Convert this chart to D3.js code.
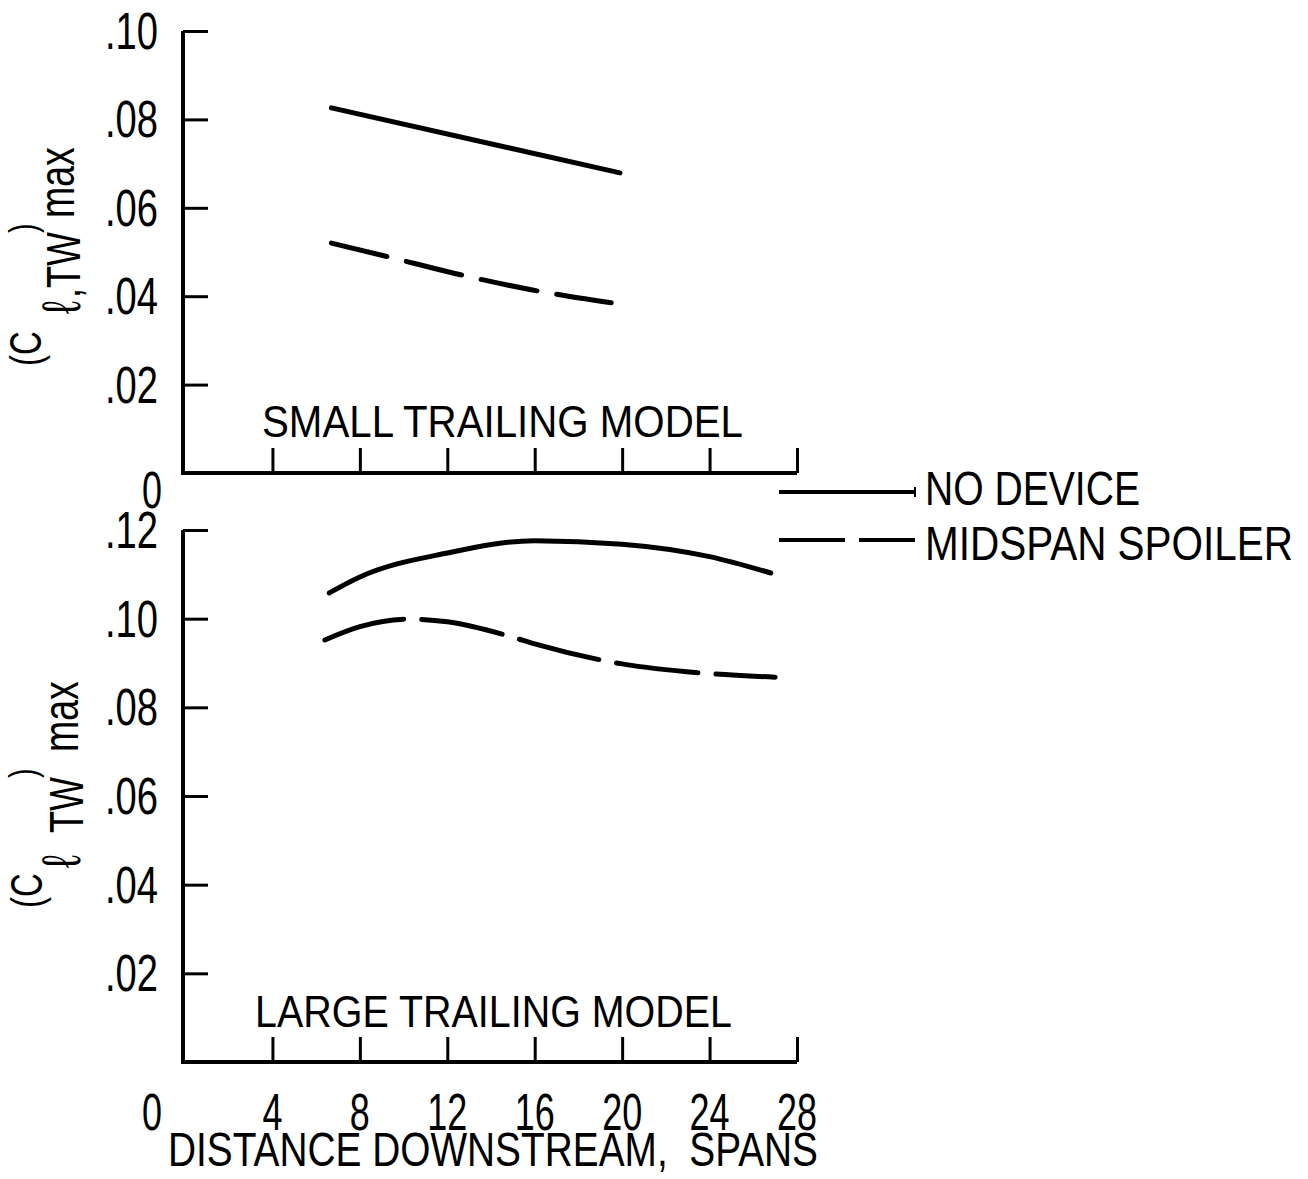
<!DOCTYPE html>
<html>
<head>
<meta charset="utf-8">
<script src="https://cdn.jsdelivr.net/npm/d3@7"></script>
<style>
  body { margin: 0; background: #fff; }
  text { font-family: "Liberation Sans", Arial, sans-serif; fill: #000; }
</style>
</head>
<body>
<svg id="chart"></svg>
<script>
var width = 1308, height = 1179

// x ticks (spans) and y ticks for both panels
var xTicks = [0, 4, 8, 12, 16, 20, 24, 28]
var yTicksTop = [0.02, 0.04, 0.06, 0.08, 0.10]
var yTicksBottom = [0.02, 0.04, 0.06, 0.08, 0.10, 0.12]

// small trailing model
var smallSolidX = [6.7, 19.9]
var smallSolidY = [0.0826, 0.0679]
var smallDashX = [6.7, 9.3, 12.3, 15.9, 19.5]
var smallDashY = [0.0520, 0.0489, 0.0452, 0.0414, 0.0385]

// large trailing model
var largeSolidX = [6.6, 8, 12, 16, 20, 24, 26.8]
var largeSolidY = [0.1058, 0.1094, 0.1148, 0.1176, 0.1168, 0.1140, 0.1103]
var largeDashX = [6.4, 8, 10.2, 12, 15, 16, 20, 24, 27]
var largeDashY = [0.0952, 0.0982, 0.0999, 0.0993, 0.0958, 0.0943, 0.0898, 0.0876, 0.0868]

var legendLabels = ["NO DEVICE", "MIDSPAN SPOILER"]

var svg = d3.select("#chart")
  .attr("width", width)
  .attr("height", height)

var x = d3.scaleLinear().domain([0, 28]).range([185, 797])
var yTop = d3.scaleLinear().domain([0, 0.10]).range([473, 31])
var yBot = d3.scaleLinear().domain([0, 0.12]).range([1062, 530])

var fmt = function(d){ return d3.format(".2f")(d).replace(/^0/, "") }

function zip(xs, ys) {
  return xs.map(function(v, i){ return [v, ys[i]] })
}

// text squeezed to a given width (the original lettering is condensed)
function label(g, str, x0, y0, size, w) {
  return g.append("text")
    .attr("x", x0).attr("y", y0)
    .attr("font-size", size)
    .attr("textLength", w)
    .attr("lengthAdjust", "spacingAndGlyphs")
    .text(str)
}

function panel(y, yTicks, solid, dash, dashArray, title, titleX, titleW, titleY) {
  var g = svg.append("g")

  // y axis with inward ticks, labels drawn separately
  g.append("g")
    .attr("transform", "translate(" + (x(0) - 2) + ",0)")
    .call(d3.axisLeft(y).tickValues(yTicks).tickSizeInner(-25).tickSizeOuter(0).tickFormat(""))
    .call(function(a){
      a.select(".domain").attr("stroke-width", 4).attr("d", "M0," + (y(0) + 2) + "V" + y.range()[1])
      a.selectAll(".tick line").attr("stroke-width", 3)
    })

  yTicks.forEach(function(d){
    label(g, fmt(d), 105, y(d) + 18, 52, 53)
  })

  // x axis with inward ticks, no labels
  g.append("g")
    .attr("transform", "translate(0," + y(0) + ")")
    .call(d3.axisBottom(x).tickValues(xTicks.slice(1)).tickSizeInner(-25).tickSizeOuter(0).tickFormat(""))
    .call(function(a){
      a.select(".domain").attr("stroke-width", 4).attr("d", "M" + (x(0) - 4) + ",0H" + x(28))
      a.selectAll(".tick line").attr("stroke-width", 3)
    })

  label(g, title, titleX, titleY, 45, titleW)

  var line = d3.line()
    .x(function(d){ return x(d[0]) })
    .y(function(d){ return y(d[1]) })
    .curve(d3.curveMonotoneX)

  g.append("path")
    .datum(solid)
    .attr("d", line)
    .attr("fill", "none")
    .attr("stroke", "#000")
    .attr("stroke-width", 5)
    .attr("stroke-linecap", "round")

  g.append("path")
    .datum(dash)
    .attr("d", line)
    .attr("fill", "none")
    .attr("stroke", "#000")
    .attr("stroke-width", 5)
    .attr("stroke-linecap", "round")
    .attr("stroke-dasharray", dashArray)
}

panel(yTop, yTicksTop, zip(smallSolidX, smallSolidY), zip(smallDashX, smallDashY), "57,20", "SMALL TRAILING MODEL", 262, 481, 437)
panel(yBot, yTicksBottom, zip(largeSolidX, largeSolidY), zip(largeDashX, largeDashY), "82,18", "LARGE TRAILING MODEL", 255, 477, 1027)

// zero label for top panel
label(svg, "0", 142, 508, 52, 20)

// x tick labels under bottom panel
xTicks.forEach(function(d){
  var s = String(d), w = s.length * 20
  var cx = d === 0 ? 152 : x(d)
  label(svg, s, cx - w / 2, 1130, 52, w)
})

label(svg, "DISTANCE DOWNSTREAM,  SPANS", 168, 1166, 49, 650).attr("xml:space", "preserve")

// y axis titles, built from rotated pieces: [text, baseline x, start y, font size]
function yTitle(pieces) {
  pieces.forEach(function(p){
    svg.append("text")
      .attr("transform", "translate(" + p[1] + "," + p[2] + ") rotate(-90) scale(0.75,1)")
      .attr("font-size", p[3])
      .text(p[0])
  })
}
yTitle([["(C", 41, 366, 44], ["\u2113", 80, 314, 54], [",TW", 80, 298, 48], [")", 36, 233, 38], ["max", 74, 218, 50]])
yTitle([["(C", 42, 908, 44], ["\u2113", 80, 868, 54], ["TW", 83, 833, 48], [")", 36, 778, 38], ["max", 78, 752, 50]])

// legend
var legend = svg.append("g")
legend.selectAll("line")
  .data(legendLabels)
  .enter().append("line")
  .attr("x1", 779).attr("x2", 915)
  .attr("y1", function(d, i){ return 492 + i * 48 })
  .attr("y2", function(d, i){ return 492 + i * 48 })
  .attr("stroke", "#000")
  .attr("stroke-width", 4)
  .attr("stroke-dasharray", function(d, i){ return i ? "66,14" : null })

legend.append("line")
  .attr("x1", 915).attr("x2", 915)
  .attr("y1", 487).attr("y2", 497)
  .attr("stroke", "#000")
  .attr("stroke-width", 2)

legendLabels.forEach(function(d, i){
  label(legend, d, 925, 505 + i * 55, 49, i ? 368 : 215)
})
</script>
</body>
</html>
